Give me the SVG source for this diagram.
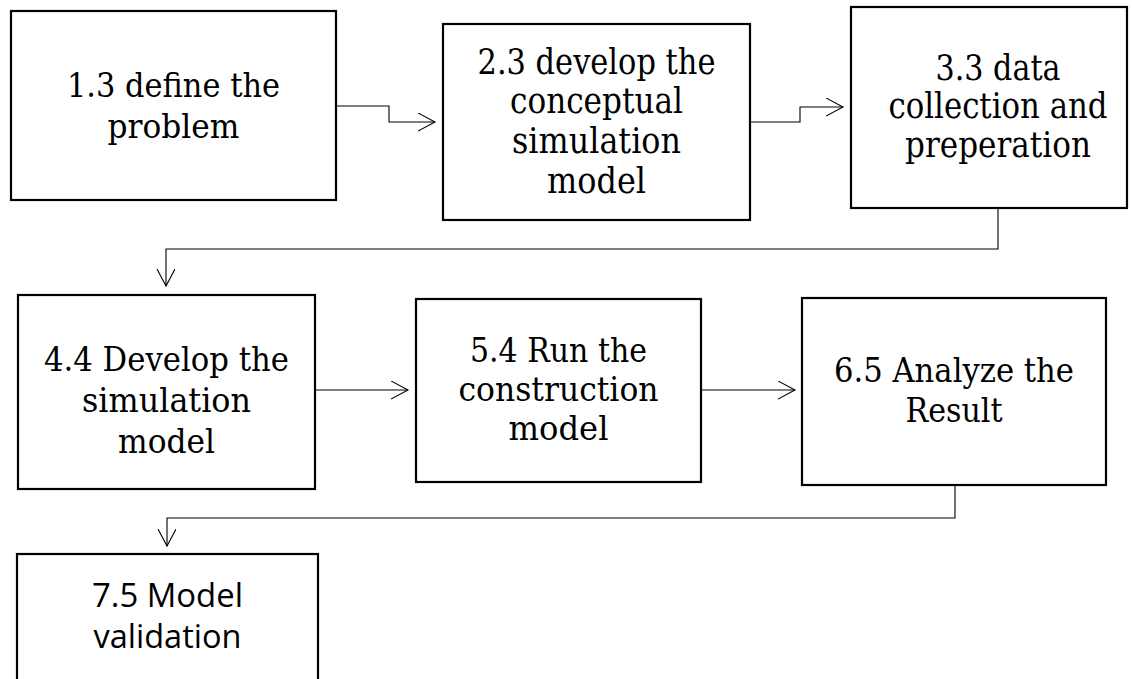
<svg xmlns="http://www.w3.org/2000/svg" width="1132" height="679" viewBox="0 0 1132 679">
<style>
.box{fill:#fff;stroke:#000;stroke-width:2.2}
.t{font-family:"DejaVu Serif",serif;font-size:33px;text-anchor:middle;fill:#000}
.tc{font-size:35px}
.ts{font-family:"Open Sans",sans-serif;font-size:33px;text-anchor:middle;fill:#000}
.c{fill:none;stroke:#000;stroke-width:1.1}
</style>
<defs>
<marker id="ah" markerUnits="userSpaceOnUse" markerWidth="20" markerHeight="20" refX="17" refY="9" orient="auto" viewBox="0 0 20 20">
<path d="M0,0 L17,9 L0,18" fill="none" stroke="#000" stroke-width="1.1"/>
</marker>
</defs>
<g id="connectors">
<polyline class="c" points="336,106 389,106 389,122 435,122" marker-end="url(#ah)"/>
<polyline class="c" points="750,122 800,122 800,107 843,107" marker-end="url(#ah)"/>
<polyline class="c" points="998,208 998,249 166,249 166,286" marker-end="url(#ah)"/>
<polyline class="c" points="315,390 408,390" marker-end="url(#ah)"/>
<polyline class="c" points="701,390 795,390" marker-end="url(#ah)"/>
<polyline class="c" points="955,485 955,518 167,518 167,546" marker-end="url(#ah)"/>
</g>
<g id="n1">
<rect class="box" x="11" y="11" width="325" height="189"/>
<text class="t" x="173.5" y="97" textLength="213" lengthAdjust="spacingAndGlyphs">1.3 define the</text>
<text class="t" x="173.5" y="138" textLength="132" lengthAdjust="spacingAndGlyphs">problem</text>
</g>
<g id="n2">
<rect class="box" x="443" y="24" width="307" height="196"/>
<text class="t tc" x="596.5" y="74" textLength="238" lengthAdjust="spacingAndGlyphs">2.3 develop the</text>
<text class="t tc" x="596.5" y="113" textLength="173" lengthAdjust="spacingAndGlyphs">conceptual</text>
<text class="t tc" x="596.5" y="153" textLength="169" lengthAdjust="spacingAndGlyphs">simulation</text>
<text class="t tc" x="596.5" y="193" textLength="99" lengthAdjust="spacingAndGlyphs">model</text>
</g>
<g id="n3">
<rect class="box" x="851" y="7" width="276" height="201"/>
<text class="t tc" x="998" y="80" textLength="125" lengthAdjust="spacingAndGlyphs">3.3 data</text>
<text class="t tc" x="998" y="118" textLength="219" lengthAdjust="spacingAndGlyphs">collection and</text>
<text class="t tc" x="998" y="157" textLength="186" lengthAdjust="spacingAndGlyphs">preperation</text>
</g>
<g id="n4">
<rect class="box" x="18" y="295" width="297" height="194"/>
<text class="t" x="166.5" y="371" textLength="245" lengthAdjust="spacingAndGlyphs">4.4 Develop the</text>
<text class="t" x="166.5" y="412" textLength="169" lengthAdjust="spacingAndGlyphs">simulation</text>
<text class="t" x="166.5" y="453" textLength="97" lengthAdjust="spacingAndGlyphs">model</text>
</g>
<g id="n5">
<rect class="box" x="416" y="299" width="285" height="183"/>
<text class="t" x="558.5" y="362" textLength="177" lengthAdjust="spacingAndGlyphs">5.4 Run the</text>
<text class="t" x="558.5" y="401" textLength="200" lengthAdjust="spacingAndGlyphs">construction</text>
<text class="t" x="558.5" y="440" textLength="100" lengthAdjust="spacingAndGlyphs">model</text>
</g>
<g id="n6">
<rect class="box" x="802" y="298" width="304" height="187"/>
<text class="t" x="954" y="382" textLength="240" lengthAdjust="spacingAndGlyphs">6.5 Analyze the</text>
<text class="t" x="954" y="422" textLength="97" lengthAdjust="spacingAndGlyphs">Result</text>
</g>
<g id="n7">
<rect class="box" x="17" y="554" width="301" height="130"/>
<text class="ts" x="167.5" y="607" textLength="151" lengthAdjust="spacingAndGlyphs">7.5 Model</text>
<text class="ts" x="167.5" y="648" textLength="148" lengthAdjust="spacingAndGlyphs">validation</text>
</g>
</svg>
